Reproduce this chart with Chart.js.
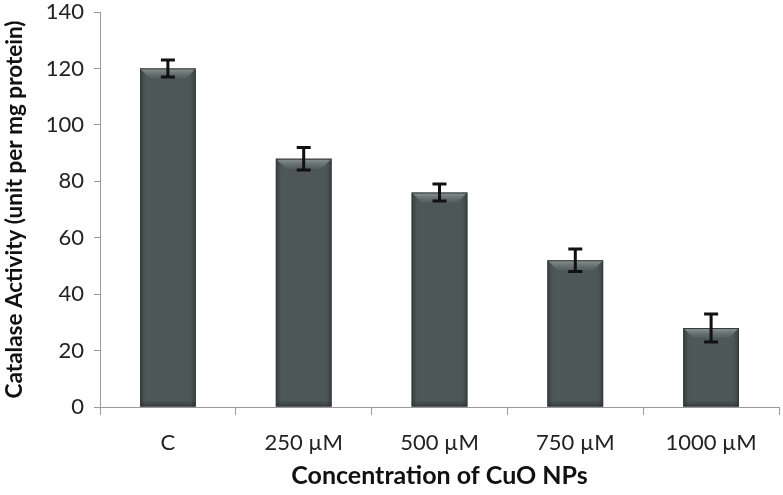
<!DOCTYPE html>
<html>
<head>
<meta charset="utf-8">
<script src="https://cdn.jsdelivr.net/npm/chart.js@4.4.0/dist/chart.umd.min.js"></script>
<style>
html,body{margin:0;padding:0;background:#fff;}
#wrap{width:783px;height:495px;position:relative;}
</style>
</head>
<body>
<div id="wrap"><canvas id="c" width="783" height="495"></canvas></div>
<script>
const categories = ['C', '250 \u00b5M', '500 \u00b5M', '750 \u00b5M', '1000 \u00b5M'];
const catalase = [120, 88, 76, 52, 28];
const errors = [3, 4, 3, 4, 5];
const yTicks = [0, 20, 40, 60, 80, 100, 120, 140];

const FONT = 'Lato, "Open Sans", sans-serif';

const barStyle = {
  id: 'barStyle',
  afterDatasetsDraw(chart) {
    const ctx = chart.ctx;
    const meta = chart.getDatasetMeta(0);
    meta.data.forEach((bar) => {
      const p = bar.getProps(['x', 'y', 'base', 'width'], true);
      if (![p.x, p.y, p.base, p.width].every(Number.isFinite)) return;
      const l = p.x - p.width / 2, r = p.x + p.width / 2, t = p.y, b = p.base;
      const bev = Math.min(10, (b - t) / 3);
      ctx.save();
      const gs = ctx.createLinearGradient(l, 0, r, 0);
      gs.addColorStop(0, 'rgba(40,45,45,0.55)');
      gs.addColorStop(0.1, 'rgba(40,45,45,0)');
      gs.addColorStop(0.9, 'rgba(40,45,45,0)');
      gs.addColorStop(1, 'rgba(40,45,45,0.55)');
      ctx.fillStyle = gs;
      ctx.fillRect(l, t, p.width, b - t);
      const g = ctx.createLinearGradient(0, t, 0, t + bev);
      g.addColorStop(0, 'rgba(150,160,160,0.9)');
      g.addColorStop(1, 'rgba(110,120,120,0.2)');
      ctx.fillStyle = g;
      ctx.beginPath();
      ctx.moveTo(l, t);
      ctx.lineTo(r, t);
      ctx.lineTo(r - bev, t + bev);
      ctx.lineTo(l + bev, t + bev);
      ctx.closePath();
      ctx.fill();
      const g2 = ctx.createLinearGradient(0, b - 6, 0, b);
      g2.addColorStop(0, 'rgba(40,44,44,0)');
      g2.addColorStop(1, 'rgba(40,44,44,0.6)');
      ctx.fillStyle = g2;
      ctx.fillRect(l, b - 6, p.width, 6);
      ctx.strokeStyle = '#353a3a';
      ctx.lineWidth = 1;
      ctx.strokeRect(l + 0.5, t + 0.5, p.width - 1, b - t - 1);
      ctx.restore();
    });
  }
};

const errorBars = {
  id: 'errorBars',
  afterDatasetsDraw(chart) {
    const ctx = chart.ctx;
    const y = chart.scales.y;
    const meta = chart.getDatasetMeta(0);
    ctx.save();
    ctx.strokeStyle = '#111';
    ctx.lineWidth = 3;
    meta.data.forEach((bar, i) => {
      const v = catalase[i], e = errors[i];
      const x = bar.x;
      const yt = y.getPixelForValue(v + e);
      const yb = y.getPixelForValue(v - e);
      const cap = 7;
      ctx.beginPath();
      ctx.moveTo(x, yt); ctx.lineTo(x, yb);
      ctx.moveTo(x - cap, yt); ctx.lineTo(x + cap, yt);
      ctx.moveTo(x - cap, yb); ctx.lineTo(x + cap, yb);
      ctx.stroke();
    });
    ctx.restore();
  }
};

new Chart(document.getElementById('c'), {
  type: 'bar',
  data: {
    labels: categories,
    datasets: [{
      data: catalase,
      backgroundColor: '#4e5757',
      borderWidth: 0,
      barPercentage: 0.41,
      categoryPercentage: 1.0
    }]
  },
  options: {
    responsive: false,
    animation: false,
    devicePixelRatio: 1,
    layout: { padding: { left: 0, right: 4, top: 12, bottom: 0 } },
    plugins: { legend: { display: false }, tooltip: { enabled: false } },
    scales: {
      x: {
        offset: true,
        grid: { offset: true, drawOnChartArea: false, drawTicks: true, tickLength: 8, color: '#9a9a9a', lineWidth: 1 },
        border: { display: true, color: '#9a9a9a', width: 1 },
        ticks: { color: '#222', font: { family: FONT, size: 22 }, padding: 15 },
        title: { display: true, text: 'Concentration of CuO NPs', color: '#111', font: { family: FONT, size: 25, weight: 'bold' }, padding: { top: 0, bottom: 4 } },
        afterFit: (s) => { s.height = 88; s.paddingRight = 0; s.paddingLeft = 0; }
      },
      y: {
        min: 0, max: 140,
        afterBuildTicks: (s) => { s.ticks = yTicks.map(v => ({ value: v })); },
        grid: { drawOnChartArea: false, drawTicks: true, tickLength: 6, color: '#9a9a9a', lineWidth: 1 },
        border: { display: true, color: '#9a9a9a', width: 1 },
        ticks: { color: '#222', font: { family: FONT, size: 22 }, padding: 10 },
        title: { display: true, text: 'Catalase Activity (unit per mg protein)', color: '#111', font: { family: FONT, size: 22.5, weight: 'bold' }, padding: { top: 1, bottom: 0 } },
        afterFit: (s) => { s.width = 100; s.paddingTop = 0; s.paddingBottom = 0; }
      }
    }
  },
  plugins: [barStyle, errorBars]
});
</script>
</body>
</html>
